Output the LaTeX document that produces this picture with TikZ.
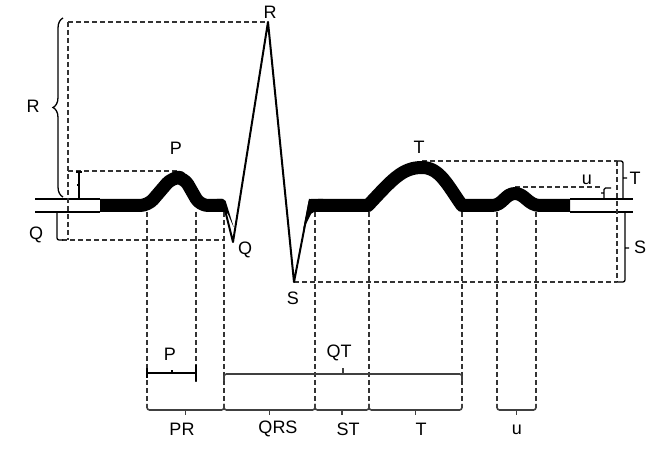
\documentclass[tikz,border=0pt]{standalone}
\usepackage{fontspec}
\setmainfont{Liberation Sans}
\usetikzlibrary{decorations.pathreplacing,calc}

\tikzset{
  guide/.style={dash pattern=on 5pt off 3pt,line width=1.6pt,black!80},
  trace/.style={line width=13pt,line join=round},
  spike/.style={line width=2pt,line join=round},
  rail/.style={line width=1.3pt},
  brc/.style={decorate,decoration={brace,amplitude=#1},line width=1.3pt},
  brc/.default=12pt,
  downbrace/.style={line width=1.6pt,black!75,to path={(\tikztostart) [rounded corners=2.5pt] -- ++(0,6) -- ($(\tikztotarget)+(0,6)$) -- (\tikztotarget)}},
  upbrace/.style={line width=1.6pt,black!75,to path={(\tikztostart) [rounded corners=2.5pt] -- ++(0,-7) -- ($(\tikztotarget)+(0,-7)$) -- (\tikztotarget)}},
  tip/.style={line width=1.8pt,black!75},
  lbl/.style={font=\fontsize{18}{20}\selectfont,inner sep=0pt}
}

\begin{document}
\begin{tikzpicture}[x=1pt,y=-1pt]
        \useasboundingbox (0,0) rectangle (657,457);
        % key points of the wave
        \coordinate (rpk) at (268,22);
        \coordinate (qtip) at (233,242);
        \coordinate (stip) at (294,282);
        \coordinate (ppk) at (178,171);
        \coordinate (tpk) at (422,161);
        \coordinate (upk) at (515,187);
        % open ends of the baseline
        \draw[rail] (35,199) -- (100,199) (35,212) -- (100,212);
        \draw[rail] (570,199) -- (633,199) (570,212) -- (633,212);
        % guide lines
        \draw[guide] (68,22) -- (rpk);
        \draw[guide] (68,22) -- (68,240);
        \draw[guide] (68,171) -- (ppk);
        \draw[guide] (62,240) -- (224,240);
        \draw[guide] (stip) -- (617,282);
        \draw[guide] (tpk) -- (617,161);
        \draw[guide] (617,161) -- (617,282);
        \draw[guide] (upk) -- (601,187);
        \draw[guide] (147,212) -- (147,404);
        \draw[guide] (196,212) -- (196,382);
        \draw[guide] (224,212) -- (224,404);
        \draw[guide] (315,212) -- (315,404);
        \draw[guide] (369,212) -- (369,404);
        \draw[guide] (462,212) -- (462,404);
        \draw[guide] (497,212) -- (497,404);
        \draw[guide] (536,212) -- (536,404);
        % the wave
        \draw[trace,rounded corners=8pt] (100,205.5) -- (148,205.5) -- (172,177.5) -- (184,177.5) -- (200,205.5) -- (222,205.5);
        \fill[rounded corners=2pt] (215,199) -- (225,199) -- (234,228) -- (227,212) -- (215,212) -- cycle;
        \draw[spike] (224,206) -- (qtip) -- (rpk) -- (stip) -- (310,199);
        \fill[rounded corners=2pt] (303,230) -- (309,199) -- (325,199) -- (325,212) -- (312,212) -- cycle;
        \draw[trace] (318,205.5) -- (368,205.5) .. controls (392,180) and (402,167.5) .. (422,167.5)
            .. controls (440,167.5) and (448,186) .. (462,205.5) -- (492,205.5)
            .. controls (503,205.5) and (505,193.5) .. (515,193.5)
            .. controls (525,193.5) and (528,205.5) .. (540,205.5) -- (570,205.5);
        % amplitudes
        \draw[brc=10pt] (63,197) -- (63,18);
        \draw[rail,rounded corners=2pt] (57,212) -- (57,240) -- (63,240);
        \draw[rail] (76,172) -- (82,172) (79,172) -- (79,199) (79,185) -- (77,185);
        \draw[rail,rounded corners=2pt] (617,161) -- (623,161) -- (623,199) (623,178) -- (627,178);
        \draw[rail,rounded corners=2pt] (617,282) -- (625,282) -- (625,212) (625,248) -- (629,248);
        \draw[rail,rounded corners=1.5pt] (611,188) -- (604,188) -- (604,199) (604,193) -- (601,193);
        % durations
        \draw[rail] (147,373) -- (196,373) (147,368) -- (147,378) (196,365) -- (196,381) (172,373) -- (172,370);
        \draw[upbrace] (224,381) to (462,381);
        \draw[tip] (343,374) -- (343,368);
        \draw[downbrace] (147,404) to (224,404);
        \draw[tip] (185.5,410) -- (185.5,415);
        \draw[downbrace] (224,404) to (315,404);
        \draw[tip] (269.5,410) -- (269.5,415);
        \draw[downbrace] (315,404) to (369,404);
        \draw[tip] (342,410) -- (342,415);
        \draw[downbrace] (369,404) to (462,404);
        \draw[tip] (415.5,410) -- (415.5,415);
        \draw[downbrace] (497,404) to (536,404);
        \draw[tip] (516.5,410) -- (516.5,415);
        % labels
        \node[lbl] (labRtop) at (270,12) {R};
        \node[lbl] (labPtop) at (176,148) {P};
        \node[lbl] (labTtop) at (419,147) {T};
        \node[lbl] (labQtip) at (245,250) {Q};
        \node[lbl] (labStip) at (293,298) {S};
        \node[lbl] (labRamp) at (33,106) {R};
        \node[lbl] (labQamp) at (36,235) {Q};
        \node[lbl] (labUamp) at (587,180) {u};
        \node[lbl] (labTamp) at (635,178) {T};
        \node[lbl] (labSamp) at (640,247) {S};
        \node[lbl] (labPdur) at (170,354) {P};
        \node[lbl] (labQT) at (339,353) {QT};
        \node[lbl] (labPR) at (182,429) {PR};
        \node[lbl] (labQRS) at (278,429) {QRS};
        \node[lbl] (labST) at (348,429) {ST};
        \node[lbl] (labT) at (421,429) {T};
        \node[lbl] (labU) at (517,430) {u};
    \end{tikzpicture}
\end{document}
